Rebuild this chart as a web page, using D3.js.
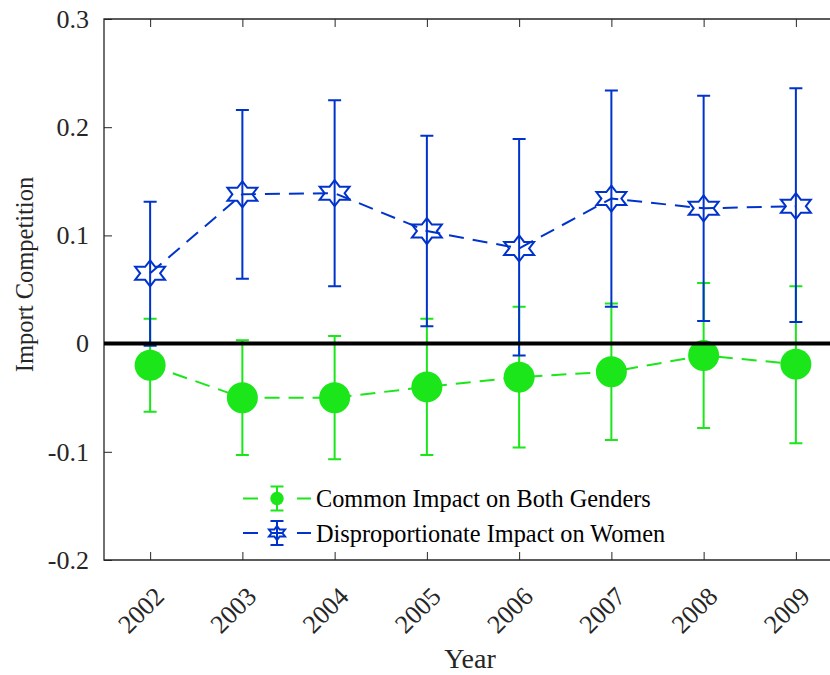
<!DOCTYPE html>
<html>
<head>
<meta charset="utf-8">
<script src="https://cdn.jsdelivr.net/npm/d3@7"></script>
<style>
  body { margin: 0; background: #fff; }
  svg { display: block; font-family: "Liberation Serif", "Times New Roman", serif; }
  .axis path { display: none; }
  .axis line { stroke: #262626; }
  .axis text { fill: #262626; font-size: 26px; font-family: "Liberation Serif", "Times New Roman", serif; }
</style>
</head>
<body>
<div id="chart"></div>
<script>
// Data
var years = [2002, 2003, 2004, 2005, 2006, 2007, 2008, 2009];

var commonEst = [-0.020, -0.050, -0.050, -0.040, -0.031, -0.026, -0.011, -0.019];
var commonLo  = [-0.063, -0.103, -0.107, -0.103, -0.096, -0.089, -0.078, -0.092];
var commonHi  = [ 0.023,  0.003,  0.007,  0.023,  0.034,  0.037,  0.056,  0.053];

var womenEst = [0.065, 0.138, 0.139, 0.104, 0.088, 0.134, 0.125, 0.127];
var womenLo  = [-0.002, 0.060, 0.053, 0.016, -0.011, 0.034, 0.021, 0.020];
var womenHi  = [0.131, 0.216, 0.225, 0.192, 0.189, 0.234, 0.229, 0.236];

var yTicks = [-0.2, -0.1, 0, 0.1, 0.2, 0.3];
var seriesNames = ["Common Impact on Both Genders", "Disproportionate Impact on Women"];

// Layout
var svgWidth = 830, svgHeight = 675;
var plotLeft = 104, plotRight = 842, plotTop = 19, plotBottom = 560;
var green = "#1ae61a";
var blue = "#0033cc";

var svg = d3.select("#chart").append("svg")
    .attr("width", svgWidth)
    .attr("height", svgHeight);

var x = d3.scaleLinear().domain([2001.5, 2009.5]).range([plotLeft, plotRight]);
var y = d3.scaleLinear().domain([-0.2, 0.3]).range([plotBottom, plotTop]);

// y axis, ticks pointing inward
var yAxis = d3.axisLeft(y).tickValues(yTicks).tickSize(-8).tickPadding(15)
    .tickFormat(function(d) { return d === 0 ? "0" : String(d); });
svg.append("g").attr("class", "axis")
    .attr("transform", "translate(" + plotLeft + ",0)")
    .call(yAxis);

// bottom axis with rotated year labels
var xAxis = d3.axisBottom(x).tickValues(years).tickSize(-8).tickFormat(d3.format("d"));
var gx = svg.append("g").attr("class", "axis")
    .attr("transform", "translate(0," + plotBottom + ")")
    .call(xAxis);
gx.selectAll("text")
    .attr("y", 0).attr("dy", 0)
    .style("text-anchor", "end")
    .attr("transform", "translate(15,38) rotate(-45)");

// top axis ticks only
svg.append("g").attr("class", "axis")
    .attr("transform", "translate(0," + plotTop + ")")
    .call(d3.axisTop(x).tickValues(years).tickSize(-8).tickFormat(""));

// box
svg.append("path")
    .attr("d", "M" + plotRight + "," + plotTop + "H" + plotLeft + "V" + plotBottom + "H" + plotRight)
    .attr("fill", "none")
    .attr("stroke", "#262626")
    .attr("stroke-width", 1.3);

// hexagram marker, a bit wider than tall like matlab's
function hexagram(R) {
    var kx = 1.33, pts = [];
    for (var i = 0; i < 12; i++) {
        var a = -Math.PI / 2 + i * Math.PI / 6;
        var r = i % 2 === 0 ? R : R / Math.sqrt(3);
        pts.push([r * Math.cos(a) * kx, r * Math.sin(a)]);
    }
    return "M" + pts.map(function(p) { return p[0].toFixed(2) + "," + p[1].toFixed(2); }).join("L") + "Z";
}

function drawSeries(est, lo, hi, color, kind) {
    var g = svg.append("g");
    var capW = 6.5;

    var line = d3.line()
        .x(function(d, i) { return x(years[i]); })
        .y(function(d) { return y(d); });

    g.append("path")
        .attr("d", line(est))
        .attr("fill", "none")
        .attr("stroke", color)
        .attr("stroke-width", 2)
        .attr("stroke-dasharray", "15,9");

    years.forEach(function(yr, i) {
        var cx = x(yr);
        g.append("path")
            .attr("d", "M" + cx + "," + y(lo[i]) + "V" + y(hi[i]) +
                "M" + (cx - capW) + "," + y(lo[i]) + "H" + (cx + capW) +
                "M" + (cx - capW) + "," + y(hi[i]) + "H" + (cx + capW))
            .attr("fill", "none")
            .attr("stroke", color)
            .attr("stroke-width", 2);
    });

    if (kind === "circle") {
        g.selectAll("circle").data(est).enter().append("circle")
            .attr("cx", function(d, i) { return x(years[i]); })
            .attr("cy", function(d) { return y(d); })
            .attr("r", 15.5)
            .attr("fill", color);
    } else {
        g.selectAll(".star").data(est).enter().append("path")
            .attr("class", "star")
            .attr("d", hexagram(13))
            .attr("transform", function(d, i) { return "translate(" + x(years[i]) + "," + y(d) + ")"; })
            .attr("fill", "none")
            .attr("stroke", color)
            .attr("stroke-width", 2);
    }
}

drawSeries(commonEst, commonLo, commonHi, green, "circle");
drawSeries(womenEst, womenLo, womenHi, blue, "star");

// zero line on top
svg.append("line")
    .attr("x1", plotLeft).attr("x2", plotRight)
    .attr("y1", y(0)).attr("y2", y(0))
    .attr("stroke", "#000")
    .attr("stroke-width", 4);

// legend
var legend = svg.append("g");
var legendRows = [
    { name: seriesNames[0], color: green, kind: "circle", y: 498.5 },
    { name: seriesNames[1], color: blue, kind: "star", y: 533 }
];
legendRows.forEach(function(r) {
    var mx = 277;
    legend.append("path")
        .attr("d", "M243," + r.y + "H258M297," + r.y + "H311")
        .attr("stroke", r.color).attr("stroke-width", 2);
    legend.append("path")
        .attr("d", "M" + mx + "," + (r.y - 12) + "V" + (r.y + 12) +
            "M" + (mx - 6.5) + "," + (r.y - 12) + "H" + (mx + 6.5) +
            "M" + (mx - 6.5) + "," + (r.y + 12) + "H" + (mx + 6.5))
        .attr("stroke", r.color).attr("stroke-width", 2);
    if (r.kind === "circle") {
        legend.append("circle").attr("cx", mx).attr("cy", r.y).attr("r", 6.7).attr("fill", r.color);
    } else {
        legend.append("path").attr("d", hexagram(7))
            .attr("transform", "translate(" + mx + "," + r.y + ")")
            .attr("fill", "none").attr("stroke", r.color).attr("stroke-width", 2);
        legend.append("line").attr("x1", mx - 6).attr("x2", mx + 6)
            .attr("y1", r.y).attr("y2", r.y).attr("stroke", r.color).attr("stroke-width", 2);
    }
    legend.append("text")
        .attr("x", 316).attr("y", r.y).attr("dy", "0.35em")
        .style("font-size", "24.3px").attr("fill", "#000")
        .text(r.name);
});

// axis titles
svg.append("text")
    .attr("x", 470).attr("y", 668)
    .style("text-anchor", "middle").style("font-size", "28px").attr("fill", "#262626")
    .text("Year");

svg.append("text")
    .attr("transform", "translate(33," + ((plotTop + plotBottom) / 2 - 15) + ") rotate(-90)")
    .style("text-anchor", "middle").style("font-size", "24.5px").attr("fill", "#262626")
    .text("Import Competition");
</script>
</body>
</html>
